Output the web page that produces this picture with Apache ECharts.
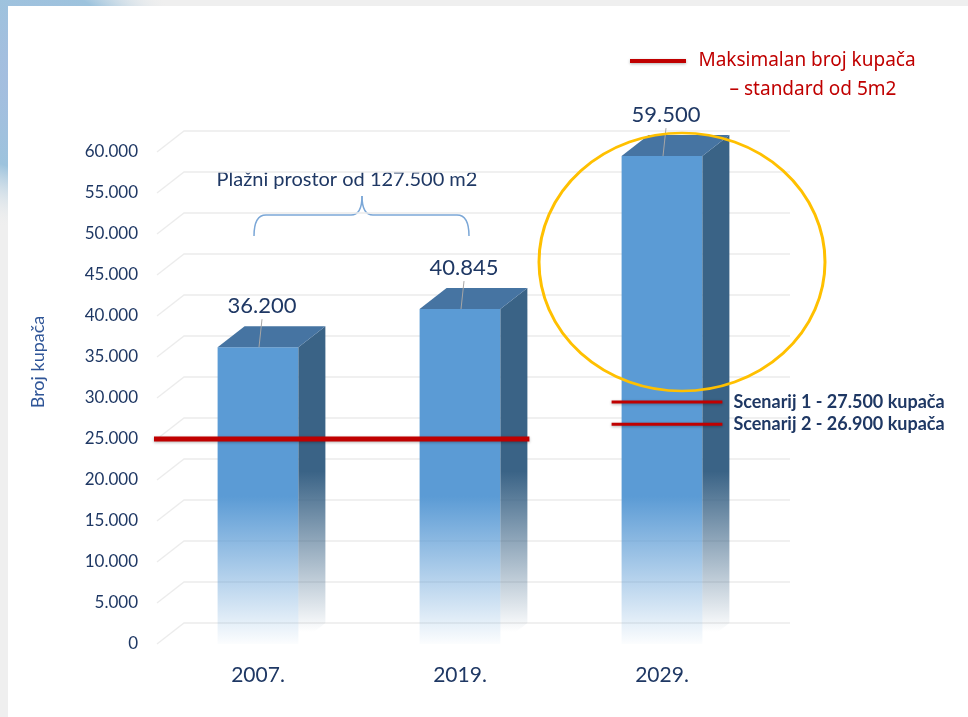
<!DOCTYPE html>
<html>
<head>
<meta charset="utf-8">
<script src="https://cdn.jsdelivr.net/npm/echarts@6/dist/echarts.min.js"></script>
<style>
html, body { margin: 0; padding: 0; background: #fff; }
#main { width: 968px; height: 717px; }
</style>
</head>
<body>
<div id="main"></div>
<script>
// podaci
var years = ['2007.', '2019.', '2029.'];
var bathers = [36200, 40845, 59500];
var barLabels = ['36.200', '40.845', '59.500'];
var yTicks = [0, 5000, 10000, 15000, 20000, 25000, 30000, 35000, 40000, 45000, 50000, 55000, 60000];
var yTickLabels = ['0', '5.000', '10.000', '15.000', '20.000', '25.000', '30.000', '35.000', '40.000', '45.000', '50.000', '55.000', '60.000'];
var maxBathers = 25000;
var scenarioNames = ['Scenarij 1 - 27.500 kupača', 'Scenarij 2 - 26.900 kupača'];
var scenarioLevels = [29500, 26800];

var FONT = 'Lato, "Open Sans", sans-serif';
var NAVY = '#1F3864';
var DX = 27, DY = -21;   // dubina 3D

var myChart = echarts.init(document.getElementById('main'));

function renderWall (params, api) {
  var cs = params.coordSys;
  var y = api.coord([0, api.value(1)])[1];
  return {
    type: 'polyline',
    shape: { points: [[cs.x, y], [cs.x + DX, y + DY], [cs.x + cs.width + DX, y + DY]] },
    style: { stroke: '#ECECEC', lineWidth: 1.3, fill: null }
  };
}

function renderBar (params, api) {
  var i = api.value(0), v = api.value(1);
  var top = api.coord([i, v]), base = api.coord([i, 0]);
  var w = api.size([1, 0])[0] * 0.4;
  var x0 = top[0] - w / 2, x1 = top[0] + w / 2;
  var fadeY = api.coord([i, 18000])[1];
  var frontFill = new echarts.graphic.LinearGradient(0, fadeY, 0, base[1], [
    { offset: 0, color: '#5B9BD5' },
    { offset: 1, color: 'rgba(91,155,213,0.02)' }
  ], true);
  var sideFill = new echarts.graphic.LinearGradient(0, fadeY - 25, 0, base[1] - 12, [
    { offset: 0, color: '#3A6386' },
    { offset: 1, color: 'rgba(58,99,134,0)' }
  ], true);
  return {
    type: 'group',
    children: [
      { type: 'rect', shape: { x: x0, y: top[1], width: w, height: base[1] - top[1] }, style: { fill: frontFill } },
      { type: 'polygon', shape: { points: [[x1, top[1]], [x1 + DX, top[1] + DY], [x1 + DX, base[1] + DY], [x1, base[1]]] }, style: { fill: sideFill } },
      { type: 'polygon', shape: { points: [[x0, top[1]], [x0 + DX, top[1] + DY], [x1 + DX, top[1] + DY], [x1, top[1]]] }, style: { fill: '#4674A2' } },
      { type: 'line', shape: { x1: top[0] + 4, y1: top[1] - 28, x2: top[0] + 1, y2: top[1] }, style: { stroke: '#A6A6A6', lineWidth: 1 } },
      { type: 'text', style: { text: barLabels[params.dataIndex], x: top[0] + 4, y: top[1] - 41, align: 'center', verticalAlign: 'middle', fill: NAVY, fontSize: 22, fontFamily: FONT } }
    ]
  };
}

function renderLimit (params, api) {
  var cs = params.coordSys;
  var y = api.coord([0, api.value(1)])[1];
  var w = api.size([1, 0])[0] * 0.4;
  var xEnd = api.coord([1, 0])[0] + w / 2 + DX + 2;
  return {
    type: 'line',
    shape: { x1: cs.x - 3, y1: y, x2: xEnd, y2: y },
    style: { stroke: '#C00000', lineWidth: 5, shadowBlur: 3, shadowColor: 'rgba(0,0,0,0.3)', shadowOffsetY: 1 }
  };
}

function renderScenario (params, api) {
  var y = api.coord([2, api.value(1)])[1];
  var c = api.coord([2, 0])[0];
  var w = api.size([1, 0])[0] * 0.4;
  return {
    type: 'group',
    children: [
      { type: 'line', shape: { x1: c - w / 2 - 10, y1: y, x2: c + w / 2 + DX - 7, y2: y }, style: { stroke: '#C00000', lineWidth: 3, shadowBlur: 3, shadowColor: 'rgba(0,0,0,0.3)', shadowOffsetY: 1 } },
      { type: 'text', style: { text: scenarioNames[params.dataIndex], x: c + w / 2 + DX + 4, y: y, align: 'left', verticalAlign: 'middle', fill: NAVY, fontSize: 18, fontWeight: 'bold', fontFamily: FONT } }
    ]
  };
}

var braceStyle = { fill: null, stroke: '#7BA7D7', lineWidth: 1.5 };

myChart.setOption({
  backgroundColor: '#fff',
  animation: false,
  grid: { left: 157, right: 205, top: 152, bottom: 73 },
  xAxis: {
    type: 'category',
    data: years,
    axisLine: { show: false },
    axisTick: { show: false },
    axisLabel: { color: NAVY, fontSize: 21, fontFamily: FONT, margin: 21 }
  },
  yAxis: {
    type: 'value',
    min: 0,
    max: 60000,
    interval: 5000,
    axisLine: { show: false },
    axisTick: { show: false },
    splitLine: { show: false },
    axisLabel: {
      color: NAVY, fontSize: 17, fontFamily: FONT, margin: 19,
      formatter: function (v) { return yTickLabels[yTicks.indexOf(v)]; }
    }
  },
  graphic: [
    { type: 'rect', z: -10, shape: { x: 0, y: 0, width: 968, height: 717 }, style: { fill: '#EFEFEF' } },
    { type: 'rect', z: -9, shape: { x: 0, y: 0, width: 170, height: 260 },
      style: { fill: new echarts.graphic.RadialGradient(0.2, 0.3, 0.9, [{ offset: 0, color: '#A7BCE0' }, { offset: 0.6, color: '#9DC3DD' }, { offset: 1, color: 'rgba(239,239,239,0)' }]) } },
    { type: 'rect', z: -8, shape: { x: 8, y: 6, width: 960, height: 711 }, style: { fill: '#fff' } },
    { type: 'text', x: 38, y: 362, rotation: Math.PI / 2, style: { text: 'Broj kupača', x: 0, y: 0, align: 'center', verticalAlign: 'middle', fill: '#2F5597', fontSize: 18, fontFamily: FONT } },
    { type: 'text', style: { text: 'Plažni prostor od 127.500 m2', x: 347, y: 180, align: 'center', verticalAlign: 'middle', fill: NAVY, fontSize: 20, fontFamily: FONT } },
    { type: 'group', children: [
      { type: 'bezierCurve', shape: { x1: 254, y1: 236, cpx1: 254, cpy1: 215, x2: 266, y2: 215 }, style: braceStyle },
      { type: 'line', shape: { x1: 266, y1: 215, x2: 351, y2: 215 }, style: braceStyle },
      { type: 'bezierCurve', shape: { x1: 351, y1: 215, cpx1: 362, cpy1: 215, x2: 362, y2: 196 }, style: braceStyle },
      { type: 'bezierCurve', shape: { x1: 362, y1: 196, cpx1: 362, cpy1: 215, x2: 373, y2: 215 }, style: braceStyle },
      { type: 'line', shape: { x1: 373, y1: 215, x2: 457, y2: 215 }, style: braceStyle },
      { type: 'bezierCurve', shape: { x1: 457, y1: 215, cpx1: 469, cpy1: 215, x2: 469, y2: 236 }, style: braceStyle }
    ] },
    { type: 'circle', z: 100, x: 682, y: 262, scaleY: 129 / 143, shape: { cx: 0, cy: 0, r: 143 }, style: { fill: null, stroke: '#FFC000', lineWidth: 3, strokeNoScale: true } },
    { type: 'line', shape: { x1: 630, y1: 61, x2: 686, y2: 61 }, style: { stroke: '#C00000', lineWidth: 4, shadowBlur: 3, shadowColor: 'rgba(0,0,0,0.3)', shadowOffsetY: 1 } },
    { type: 'text', style: { text: 'Maksimalan broj kupača', x: 807, y: 61, align: 'center', verticalAlign: 'middle', fill: '#C00000', fontSize: 19, fontFamily: '"Noto Sans", sans-serif' } },
    { type: 'text', style: { text: '– standard od 5m2', x: 813, y: 90, align: 'center', verticalAlign: 'middle', fill: '#C00000', fontSize: 19, fontFamily: '"Noto Sans", sans-serif' } }
  ],
  series: [
    {
      name: 'mreža',
      type: 'custom',
      z: 1,
      renderItem: renderWall,
      data: yTicks.map(function (t) { return [0, t]; }),
      silent: true
    },
    {
      name: 'Broj kupača',
      type: 'custom',
      z: 2,
      renderItem: renderBar,
      data: bathers.map(function (b, i) { return [i, b]; })
    },
    {
      name: 'Maksimalan broj kupača',
      type: 'custom',
      z: 3,
      renderItem: renderLimit,
      data: [[0, maxBathers]]
    },
    {
      name: 'Scenariji',
      type: 'custom',
      z: 3,
      renderItem: renderScenario,
      data: scenarioLevels.map(function (s) { return [2, s]; })
    }
  ]
});
</script>
</body>
</html>
